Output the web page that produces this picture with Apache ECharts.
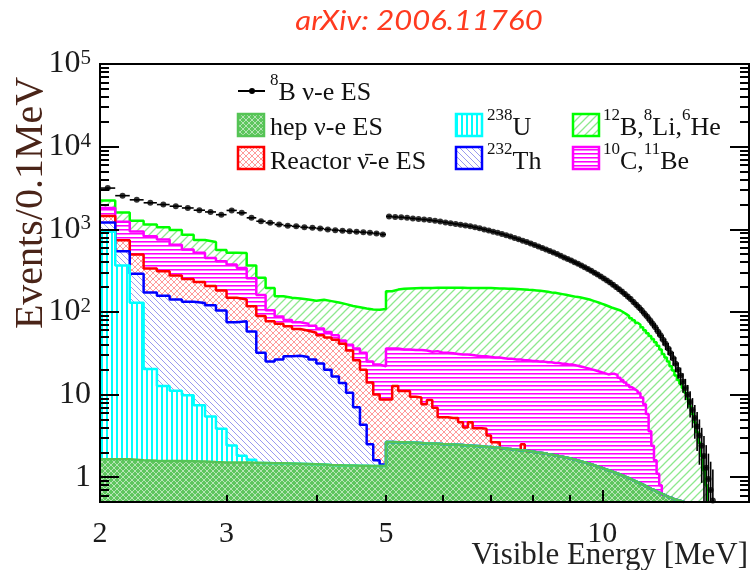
<!DOCTYPE html>
<html><head><meta charset="utf-8">
<script src="https://cdn.jsdelivr.net/npm/echarts@6/dist/echarts.min.js"></script>
<style>html,body{margin:0;padding:0;background:#fff}#c{width:751px;height:570px}</style>
</head><body><div id="c"></div>
<script>
// ---- histogram binning (0.1 MeV bins starting at 2.0 MeV) ----
const binStart = 2.0;
const binWidth = 0.1;

// stacked tops (Events/0.1MeV); null = same as layer below
const hepTop = [
 1.65,1.65,1.6,1.58,1.57,1.57,1.56,1.55,1.52,1.5,
 1.5,1.5,1.49,1.48,1.47,1.47,1.46,1.45,1.44,1.43,
 1.42,1.4,1.39,1.38,1.38,1.37,1.37,1.36,1.36,1.36,
 2.67,2.65,2.64,2.62,2.6,2.58,2.56,2.55,2.53,2.51,
 2.5,2.48,2.46,2.44,2.42,2.4,2.38,2.36,2.33,2.31,
 2.28,2.26,2.23,2.2,2.18,2.15,2.12,2.1,2.07,2.04,
 2.0,1.97,1.94,1.9,1.87,1.84,1.8,1.77,1.73,1.69,
 1.65,1.61,1.57,1.53,1.49,1.45,1.41,1.37,1.33,1.29,
 1.25,1.21,1.18,1.14,1.11,1.07,1.04,1.0,0.97,0.93,
 0.9,0.87,0.84,0.81,0.78,0.75,0.72,0.7,0.67,0.65,
 0.63,0.61,0.59,0.57,0.56,0.54,0.53,0.52,0.51,0.5
];
const u238Top = [935,364,129,20.3,12.7,11.1,9.8,7.4,5.4,3.85,2.42,1.81,1.62];
const th232Top = [
 1211,540,290,172,157,141,133,128,120,104,
 75,77,58,32,25,26.5,29,29.5,28.5,26.5,
 23.8,20,16.5,13.8,10.5,7,4.3,2.5,1.6,1.42
];
const reactorTop = [
 1450,735,495,334,310,275,250,230,205,182,
 148,141,117,89,77,72,67,62,59,56,
 52,49,46,41,34,26,20,14,10,8.7,
 8.7,12.7,11,11,9.4,9.2,7.6,8.6,6.9,5.3,
 5.3,5.2,5.2,4.6,4.0,4.6,3.9,3.9,3.85,3.2,
 2.65,2.62,null,null,null,null,null,2.5
];
const c10Top = [
 1808,1232,940,822,750,650,570,520,450,410,
 375,340,255,160,105,88,80,75,72,68,
 63,57,52,45,40,36,32,25,23,22,
 36,36,35,35,34.5,34.5,34,33,33.5,32,
 32,31.5,31,30.5,30.5,30,29.5,29,29,28.5,
 28,28,27.5,27,27,26.5,26.5,26,26,25.5,
 25.5,25,25,24.5,24.5,24,24,23.5,23.5,23,
 23,22.5,22,21.5,21,20.5,20,19.5,19,18.5,
 18,17.5,17.8,17.8,17.3,16,15,14,13,12.2,
 11.6,11,10.4,9.2,7.6,5.8,3.6,2.4,1.6,1.1,
 0.8
];
const b12Top = [
 2230,1600,1270,1140,1060,980,860,740,700,560,
 520,515,365,258,195,155,148,145,141,136,
 140,135,130,124,118,114,110,107,106,108,
 178,186,190,192,193,194,195,195,196,196,
 196,196,196,196,195,195,195,195,194,194,
 193,192,192,191,190,189,188,187,185,184,
 182,180,178,175,172,170,167,164,161,158,
 155,152,150,147,144,141,137,133,129,125,
 121,117,113,110,107,104,99,94,89,84,
 79,74,70,65,60,55,51,47,43,39,
 35,31,28,25,22,19.5,17,15,13.5,12,
 10.5,8.8,7.2,5.8,4.6,3.5,2.6,1.8,1.2,0.8
];
// 8B nu-e ES, one point per bin (bin centres)
const b8Signal = [
 3150,2550,2270,2090,1990,1900,1810,1700,1620,1500,
 1690,1580,1375,1250,1195,1140,1105,1085,1055,1040,
 1020,995,975,960,945,930,920,905,890,865,
 1430,1410,1395,1375,1350,1330,1310,1290,1265,1240,
 1210,1185,1160,1135,1110,1085,1055,1025,995,965,
 935,905,875,845,815,785,755,725,700,672,
 645,620,595,570,545,522,500,478,456,436,
 420,400,382,364,347,330,314,298,283,268,
 254,240,226,213,200,188,176,164,153,143,
 132,122,113,104,95,87,79,72,65,58,
 52,46,41,36,31.5,27.5,23.5,20,17,14.3,
 12,9.9,8.1,6.5,5.2,4.1,3.2,2.4,1.8,1.3,
 0.95,0.7,0.52
];

// axes
const xMin = 2, xMax = 16, yMin = 0.5, yMax = 100000;
const xLabelValues = [2, 3, 5, 10];
const xMajorTicks = [10];
const xMinorTicks = [3, 4, 5, 6, 7, 8, 9];
const yLabelValues = [1, 10, 100, 1000, 10000, 100000];

const yMinorTicks = [];
[0.1, 1, 10, 100, 1000, 10000].forEach(d => { for (let k = 2; k <= 9; k++) { const v = +(k * d).toPrecision(3); if (v > yMin && v < yMax) yMinorTicks.push(v); } });

// ---- fill patterns ----
function makePattern(w, h, bg, draw) {
  const c = document.createElement('canvas'); c.width = w; c.height = h;
  const g = c.getContext('2d');
  g.fillStyle = bg; g.fillRect(0, 0, w, h);
  draw(g, w, h);
  return { image: c, repeat: 'repeat' };
}
function diag(g, s, dir) {
  g.beginPath();
  if (dir > 0) { g.moveTo(-1, s + 1); g.lineTo(s + 1, -1); g.moveTo(-1, 1); g.lineTo(1, -1); g.moveTo(s - 1, s + 1); g.lineTo(s + 1, s - 1); }
  else { g.moveTo(-1, -1); g.lineTo(s + 1, s + 1); g.moveTo(s - 1, -1); g.lineTo(s + 1, 1); g.moveTo(-1, s - 1); g.lineTo(1, s + 1); }
  g.stroke();
}
const patGreen = makePattern(8, 8, '#ffffff', g => { g.strokeStyle = '#8ee88e'; g.lineWidth = 1.3; diag(g, 8, 1); });
const patMag = makePattern(4, 4, '#ffffff', g => { g.fillStyle = '#ff00ff'; g.fillRect(0, 1, 4, 1); g.fillStyle = 'rgba(255,0,255,0.55)'; g.fillRect(0, 2, 4, 1); });
const patRed = makePattern(6, 6, '#ffffff', g => { g.strokeStyle = '#ff9a9a'; g.lineWidth = 1; diag(g, 6, 1); diag(g, 6, -1); });
const patBlue = makePattern(6, 6, '#ffffff', g => { g.strokeStyle = '#9a9af0'; g.lineWidth = 1; diag(g, 6, -1); });
const patCyan = makePattern(5, 5, '#ffffff', g => { g.fillStyle = '#00ffff'; g.fillRect(1, 0, 2, 5); });
const patHep = makePattern(6, 6, '#5ec65e', g => { g.strokeStyle = 'rgba(255,255,255,0.55)'; g.lineWidth = 1; diag(g, 6, 1); diag(g, 6, -1); });

// ---- build stacked layers (bottom -> top) ----
const layers = [
  { own: hepTop,     color: '#55c455', fill: patHep },
  { own: u238Top,    color: '#00ffff', fill: patCyan },
  { own: th232Top,   color: '#0000ff', fill: patBlue },
  { own: reactorTop, color: '#ff0000', fill: patRed },
  { own: c10Top,     color: '#ff00ff', fill: patMag },
  { own: b12Top,     color: '#00ff00', fill: patGreen }
];
const nBins = Math.max(...layers.map(l => l.own.length));
const edge = i => +(binStart + i * binWidth).toFixed(2);
let below = [];
layers.forEach(l => {
  const top = [];
  for (let i = 0; i < nBins; i++) {
    const own = i < l.own.length ? l.own[i] : null;
    top.push(own != null ? own : (below[i] != null ? below[i] : null));
  }
  l.top = top; below = top;
  let last = -1; top.forEach((v, i) => { if (v != null) last = i; });
  const d = [];
  for (let i = 0; i <= last; i++) d.push([edge(i), top[i]]);
  d.push([edge(last + 1), yMin]);
  l.data = d;
});

const histSeries = layers.slice().reverse().map(l => ({
  type: 'line', step: 'end', data: l.data, symbol: 'none', silent: true,
  xAxisIndex: 0, yAxisIndex: 0, z: 2,
  lineStyle: { color: l.color, width: 2.5 },
  areaStyle: { color: l.fill, opacity: 1, origin: 'start' }
}));

const b8Data = b8Signal.map((v, i) => [+(binStart + (i + 0.5) * binWidth).toFixed(2), v]);

const FONT = 'Liberation Serif';
const tickStyle = { color: '#000', width: 2 };
const base = { type: 'log', logBase: 10, z: 10, splitLine: { show: false }, axisLine: { show: false }, axisLabel: { show: false }, axisTick: { show: false } };
const xBase = Object.assign({}, base, { min: xMin, max: xMax, position: 'bottom' });
const yBase = Object.assign({}, base, { min: yMin, max: yMax });

const chart = echarts.init(document.getElementById('c'), null, { renderer: 'canvas' });
chart.setOption({
  animation: false,
  backgroundColor: '#ffffff',
  grid: { left: 100, right: 2, top: 64, bottom: 68, show: true, borderColor: '#000', borderWidth: 2, backgroundColor: 'transparent', z: 10 },
  xAxis: [
    Object.assign({}, xBase, {
      axisTick: { show: true, inside: true, length: 12, customValues: xMajorTicks, lineStyle: tickStyle },
      axisLabel: { show: true, customValues: xLabelValues, margin: 17, fontSize: 30, fontFamily: FONT, color: '#1a1a1a', formatter: v => String(v) }
    }),
    Object.assign({}, xBase, { axisTick: { show: true, inside: true, length: 7, customValues: xMinorTicks, lineStyle: tickStyle } })
  ],
  yAxis: [
    Object.assign({}, yBase, {
      position: 'left',
      axisTick: { show: true, inside: true, length: 19, customValues: yLabelValues, lineStyle: tickStyle },
      axisLabel: {
        show: true, customValues: yLabelValues, margin: 9,
        formatter: v => { const e = Math.round(Math.log10(v)); return e === 0 ? '{b|1}' : e === 1 ? '{b|10}' : '{b|10}{s|' + e + '}'; },
        rich: {
          b: { fontSize: 32, fontFamily: FONT, color: '#1a1a1a', lineHeight: 32, verticalAlign: 'bottom' },
          s: { fontSize: 21, fontFamily: FONT, color: '#1a1a1a', lineHeight: 17, verticalAlign: 'top' }
        }
      }
    }),
    Object.assign({}, yBase, { position: 'left', axisTick: { show: true, inside: true, length: 9, customValues: yMinorTicks, lineStyle: tickStyle } }),
    Object.assign({}, yBase, { position: 'right', axisTick: { show: true, inside: true, length: 19, customValues: yLabelValues, lineStyle: tickStyle } }),
    Object.assign({}, yBase, { position: 'right', axisTick: { show: true, inside: true, length: 9, customValues: yMinorTicks, lineStyle: tickStyle } })
  ],
  series: histSeries.concat([
    {
      type: 'custom', data: b8Data, xAxisIndex: 0, yAxisIndex: 0, z: 5, silent: true,
      renderItem: (params, api) => {
        const c = api.value(0), v = api.value(1);
        const err = Math.sqrt(v);
        const p1 = api.coord([c - binWidth / 2, v]), p2 = api.coord([c + binWidth / 2, v]);
        const pu = api.coord([c, v + err]), pd = api.coord([c, Math.max(yMin, v - err)]);
        return { type: 'group', children: [
          { type: 'line', shape: { x1: p1[0], y1: p1[1], x2: p2[0], y2: p2[1] }, style: { stroke: '#000', lineWidth: 1.6 } },
          { type: 'line', shape: { x1: pu[0], y1: pu[1], x2: pd[0], y2: pd[1] }, style: { stroke: '#000', lineWidth: 1.6 } }
        ] };
      }
    },
    { type: 'scatter', data: b8Data, xAxisIndex: 0, yAxisIndex: 0, z: 6, symbol: 'circle', symbolSize: 6, itemStyle: { color: '#000' }, silent: true }
  ]),
  graphic: (function () {
    const rb = { fontSize: 26, fontFamily: FONT, fill: '#111', color: '#111', lineHeight: 34, verticalAlign: 'bottom' };
    const rs = { fontSize: 17, fontFamily: FONT, fill: '#111', color: '#111', lineHeight: 10, verticalAlign: 'top' };
    const txt = (x, y, t) => ({ type: 'text', x, y, z: 20, silent: true, style: { text: t, rich: { b: rb, s: rs }, fontSize: 26, fontFamily: FONT, verticalAlign: 'middle', textVerticalAlign: 'middle', align: 'left', textAlign: 'left' } });
    const box = (x, y, fill, stroke) => ({ type: 'rect', z: 20, silent: true, shape: { x, y, width: 26, height: 22 }, style: { fill, stroke, lineWidth: 2.5 } });
    return [
      { type: 'text', x: 419, y: 21, z: 20, scaleX: 1.15, silent: true, style: { text: 'arXiv: 2006.11760', fontSize: 27, fontStyle: 'italic', fontFamily: 'Lato', fill: '#ff3a1f', align: 'center', textAlign: 'center', verticalAlign: 'middle', textVerticalAlign: 'middle' } },
      { type: 'text', x: 31, y: 203, rotation: Math.PI / 2, z: 20, silent: true, style: { text: 'Events/0.1MeV', fontSize: 40, fontFamily: FONT, fill: '#4a2418', align: 'center', textAlign: 'center', verticalAlign: 'middle', textVerticalAlign: 'middle' } },
      { type: 'text', x: 748, y: 556, z: 20, silent: true, style: { text: 'Visible Energy [MeV]', fontSize: 31, fontFamily: FONT, fill: '#222', align: 'right', textAlign: 'right', verticalAlign: 'middle', textVerticalAlign: 'middle' } },
      { type: 'line', z: 20, silent: true, shape: { x1: 238, y1: 91, x2: 265, y2: 91 }, style: { stroke: '#000', lineWidth: 2 } },
      { type: 'circle', z: 21, silent: true, shape: { cx: 252, cy: 91, r: 3 }, style: { fill: '#000' } },
      txt(270, 89, '{s|8}{b|B \u03bd-e ES}'),
      box(238, 114, patHep, '#55c455'),
      txt(270, 124.5, '{b|hep \u03bd-e ES}'),
      box(238, 147, patRed, '#ff0000'),
      txt(270, 158, '{b|Reactor \u03bd\u0304-e ES}'),
      box(456, 114, patCyan, '#00ffff'),
      txt(487, 124.5, '{s|238}{b|U}'),
      box(456, 147, patBlue, '#0000ff'),
      txt(487, 158, '{s|232}{b|Th}'),
      box(573, 114, patGreen, '#00ff00'),
      txt(603, 124.5, '{s|12}{b|B,}{s|8}{b|Li,}{s|6}{b|He}'),
      box(573, 147, patMag, '#ff00ff'),
      txt(603, 158, '{s|10}{b|C,}{s|11}{b|Be}')
    ];
  })()
});
</script>
</body></html>
